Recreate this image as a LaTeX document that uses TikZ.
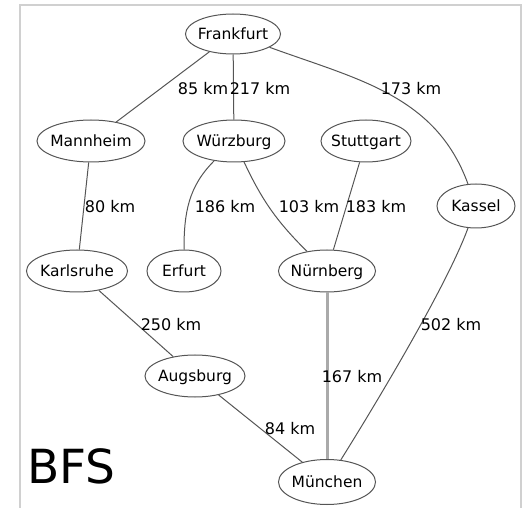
\documentclass[tikz,border=0pt]{standalone}
\usepackage{fontspec}
\setmainfont{DejaVu Sans}
\usetikzlibrary{shapes.geometric}
\definecolor{edgegray}{RGB}{85,85,85}
\definecolor{framegray}{RGB}{208,208,208}
\definecolor{pathgray}{RGB}{170,170,170}
\tikzset{
  city/.style={ellipse, draw=edgegray, line width=1pt, inner xsep=-12pt,
    inner ysep=0pt, text height=10.9pt, text depth=0pt,
    font=\fontsize{15.5}{18}\selectfont},
  dist/.style={inner sep=0pt, text height=11.6pt, text depth=0pt,
    font=\fontsize{16}{19}\selectfont},
  road/.style={draw=edgegray, line width=1pt},
  visited/.style={draw=pathgray, line width=3pt},
}

\begin{document}
\begin{tikzpicture}[x=1pt,y=-1pt]
              \useasboundingbox (0,0) rectangle (523,508);
              \draw[framegray, line width=2pt] (20,508) -- (20,5) -- (521,5) -- (521,508);

              % Define vertices
              \node[city, minimum width=95pt, minimum height=40pt] (Fra) at (233,34) {Frankfurt};
              \node[city, minimum width=108pt, minimum height=42pt] (Man) at (91,141) {Mannheim};
              \node[city, minimum width=102pt, minimum height=42pt] (Wur) at (234,141) {Würzburg};
              \node[city, minimum width=90pt, minimum height=42pt] (Stu) at (366,141) {Stuttgart};
              \node[city, minimum width=78pt, minimum height=44pt] (Kas) at (476,206) {Kassel};
              \node[city, minimum width=101pt, minimum height=42pt] (Kar) at (77,271) {Karlsruhe};
              \node[city, minimum width=74pt, minimum height=42pt] (Erf) at (184,271) {Erfurt};
              \node[city, minimum width=97pt, minimum height=42pt] (Nur) at (327,271) {Nürnberg};
              \node[city, minimum width=100pt, minimum height=42pt] (Aug) at (195,376) {Augsburg};
              \node[city, minimum width=97pt, minimum height=45pt] (Mun) at (327,482) {München};

              % Draw edges
              \draw[road] (Fra) -- (Man);
              \draw[road] (Fra) -- (Wur);
              \draw[road] (Fra) to[out=-20, in=110] (Kas);
              \draw[road] (Man) -- (Kar);
              \draw[road] (Wur) to[out=-135, in=90] (Erf);
              \draw[road] (Wur) to[bend right=10] (Nur);
              \draw[road] (Stu) -- (Nur);
              \draw[road] (Kar) -- (Aug);
              \draw[visited] (Nur) -- (Mun);
              \draw[road] (Aug) -- (Mun);
              \draw[road] (Kas) to[out=-110, in=58, looseness=0.6] (Mun);

              % Distances
              \node[dist] (dFraMan) at (203,89) {85 km};
              \node[dist] (dFraWur) at (260,89) {217 km};
              \node[dist] (dFraKas) at (411,89) {173 km};
              \node[dist] (dManKar) at (110,207) {80 km};
              \node[dist] (dWurErf) at (225,207) {186 km};
              \node[dist] (dWurNur) at (309,207) {103 km};
              \node[dist] (dStuNur) at (376,207) {183 km};
              \node[dist] (dKarAug) at (171,325) {250 km};
              \node[dist] (dKasMun) at (451,325) {502 km};
              \node[dist] (dNurMun) at (352,377) {167 km};
              \node[dist] (dAugMun) at (290,429) {84 km};

              \node[font=\fontsize{47}{50}\selectfont, anchor=base west, inner sep=0pt] (BFS) at (27,483) {BFS};
            \end{tikzpicture}
\end{document}
